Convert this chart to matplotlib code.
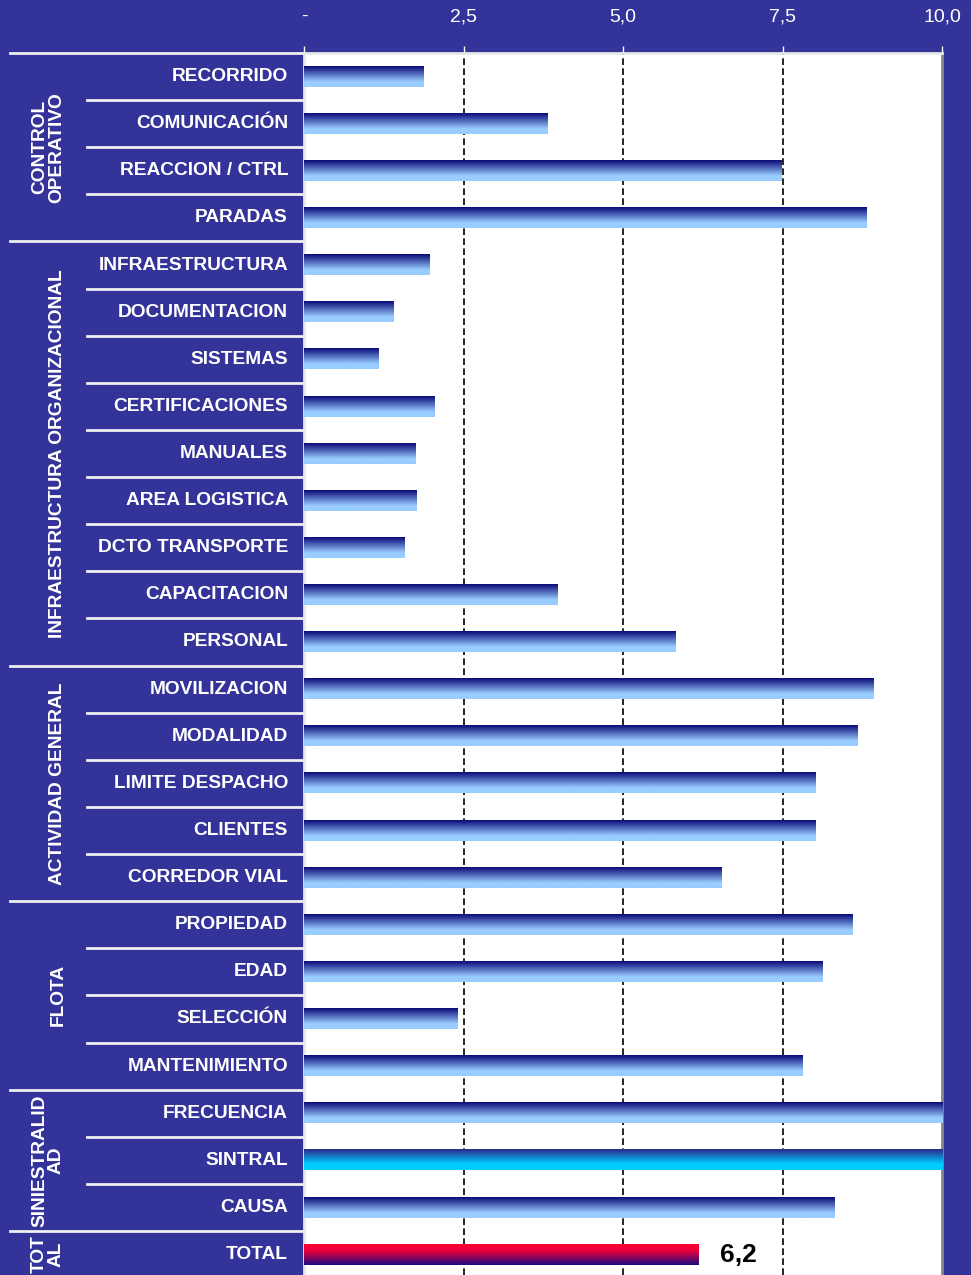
import numpy as np
import matplotlib
matplotlib.use("Agg")
import matplotlib.pyplot as plt
from matplotlib.colors import LinearSegmentedColormap
import matplotlib.transforms as mtransforms

# data
items = ["RECORRIDO", "COMUNICACIÓN", "REACCION / CTRL", "PARADAS",
         "INFRAESTRUCTURA", "DOCUMENTACION", "SISTEMAS", "CERTIFICACIONES",
         "MANUALES", "AREA LOGISTICA", "DCTO TRANSPORTE", "CAPACITACION", "PERSONAL",
         "MOVILIZACION", "MODALIDAD", "LIMITE DESPACHO", "CLIENTES", "CORREDOR VIAL",
         "PROPIEDAD", "EDAD", "SELECCIÓN", "MANTENIMIENTO",
         "FRECUENCIA", "SINTRAL", "CAUSA",
         "TOTAL"]
values = [1.87, 3.82, 7.49, 8.82,
          1.97, 1.41, 1.16, 2.04, 1.74, 1.77, 1.57, 3.97, 5.82,
          8.93, 8.67, 8.01, 8.01, 6.55,
          8.60, 8.12, 2.41, 7.82,
          10.0, 10.0, 8.31,
          6.19]
groups = ["CONTROL\nOPERATIVO", "INFRAESTRUCTURA ORGANIZACIONAL", "ACTIVIDAD GENERAL",
          "FLOTA", "SINIESTRALID\nAD", "TOT\nAL"]
group_sizes = [4, 9, 5, 4, 3, 1]
ticks = [0, 2.5, 5.0, 7.5, 10.0]
tick_labels = ["-", "2,5", "5,0", "7,5", "10,0"]
total_label = "6,2"

BG = "#333399"
plt.rcParams["font.family"] = ["Liberation Sans", "DejaVu Sans"]

fig = plt.figure(figsize=(9.71, 12.75), dpi=100, facecolor=BG)
ax = fig.add_axes([304 / 971, 0, 638 / 971, 1 - 53 / 1275])
ax.set_facecolor("white")

n = len(items)
y = np.arange(n)
bars = ax.barh(y, values, height=0.43, color="none", edgecolor="none", zorder=3)

cm_std = LinearSegmentedColormap.from_list("std", [(0, "#0a0a78"), (0.75, "#99ccff"), (1, "#99ccff")])
cm_sin = LinearSegmentedColormap.from_list("sin", [(0, "#2a2a8a"), (0.7, "#00ccff"), (1, "#00ccff")])
cm_tot = LinearSegmentedColormap.from_list("tot", [(0, "#ff0033"), (0.35, "#e0003c"), (1, "#1a0a80")])
grad = np.linspace(0, 1, 64).reshape(-1, 1)
for name, bar in zip(items, bars):
    x0, y0 = bar.get_xy()
    w, h = bar.get_width(), bar.get_height()
    cmap = cm_sin if name == "SINTRAL" else cm_tot if name == "TOTAL" else cm_std
    ax.imshow(grad, cmap=cmap, aspect="auto", extent=[x0, x0 + w, y0 + h, y0],
              zorder=3, interpolation="bilinear")

ax.set_xlim(0, 10)
ax.set_ylim(-0.5 + 1222 / 47.12, -0.5)

for t in ticks[1:4]:
    ax.axvline(t, color="black", lw=1.2, ls=(0, (4, 2)), zorder=2)

ax.xaxis.tick_top()
ax.set_xticks(ticks)
ax.set_xticklabels(tick_labels, color="white", fontsize=14, family=["Liberation Sans Narrow", "Liberation Sans"])
ax.tick_params(axis="x", colors="white", length=5, width=1, pad=15, labelcolor="white")
ax.set_yticks([])
for s in ["top", "left"]:
    ax.spines[s].set_color("#e8e8e8")
    ax.spines[s].set_linewidth(2)
ax.spines["right"].set_color("#888888")
ax.spines["right"].set_linewidth(2)
ax.spines["bottom"].set_visible(False)

trans = mtransforms.blended_transform_factory(ax.transAxes, ax.transData)
px = lambda p: (p - 304) / 638

for i, name in enumerate(items):
    ax.text(px(288), i, name, transform=trans, ha="right", va="center",
            color="white", fontsize=13.8, fontweight="bold", clip_on=False)

# separators
bounds = np.cumsum([0] + group_sizes)
for k in range(1, n):
    x_start = px(10) if k in bounds else px(87)
    ax.plot([x_start, 0], [k - 0.5, k - 0.5], transform=trans, color="#f0f0f0",
            lw=2, clip_on=False)
ax.plot([px(10), 0], [-0.5, -0.5], transform=trans, color="#f0f0f0", lw=2, clip_on=False)

for g, start, size in zip(groups, bounds[:-1], group_sizes):
    xc = px(48) if "\n" in g else px(58)
    ax.text(xc, start + (size - 1) / 2, g, transform=trans, rotation=90,
            ha="center", va="center", color="white", fontsize=13.8, fontweight="bold",
            linespacing=1.0, clip_on=False)

ax.text(values[-1] + 0.33, n - 1, total_label, ha="left", va="center",
        color="black", fontsize=19, fontweight="bold", zorder=4)

fig.savefig("out.png", dpi=100, facecolor=BG)
